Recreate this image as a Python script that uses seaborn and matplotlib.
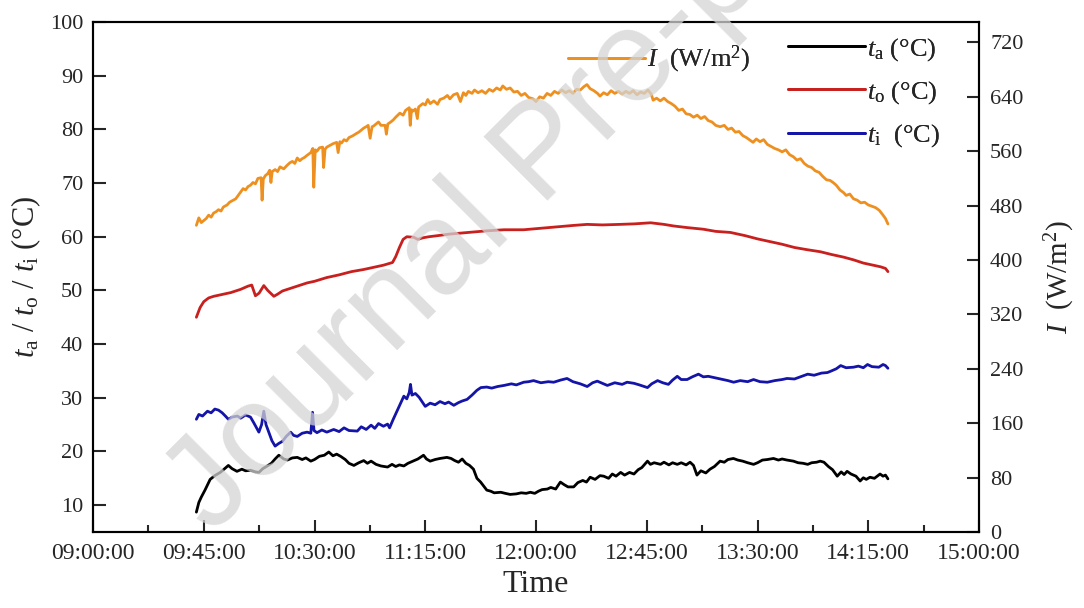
import numpy as np
import pandas as pd
import matplotlib
matplotlib.use("Agg")
import matplotlib.pyplot as plt
import seaborn as sns
from matplotlib.ticker import FixedLocator, MultipleLocator

# ---------------- data (time in minutes after 09:00) ----------------
t_I = [42, 43, 44, 45, 46, 47, 48, 49, 50, 51, 52, 53, 54.5, 55.5, 57, 58, 59, 60, 61, 62, 63, 64, 65, 66,
       67, 68.3, 68.7, 69.2, 70, 71, 71.8, 72.3, 72.8, 74, 75, 76, 77.5, 78.8, 80, 81, 82, 83, 84, 85, 86,
       87, 88.5, 89.3, 89.7, 90.3, 91, 92, 93.3, 93.7, 94.3, 95, 96, 97.5, 99, 99.6, 100.3, 101, 102, 103,
       104, 105.7, 107, 108, 109, 110, 111, 111.8, 112.6, 113.4, 114, 115, 116, 117, 118.7, 119.2, 119.8,
       121, 122, 123, 124.7, 126, 127, 128.5, 128.9, 129.4, 130, 131, 131.8, 132.3, 133, 134, 135,
       136, 137, 138.5, 140, 141, 142.5, 144, 145, 146.5, 148, 149.3, 150.5, 151.5, 152.5, 154, 155,
       156.5, 158, 159.5, 161, 162.5, 164, 165.5, 166.5, 168, 169.5, 171, 172.5, 174, 175.5, 177, 178.8,
       180, 181.5, 183, 184.5, 186, 187.5, 189, 190.5, 192, 193.5, 195, 196.5, 198, 199.5, 200.7, 202,
       203.5, 205, 206, 207.5, 209, 210.5, 212, 213.5, 215, 216.5, 218, 219.5, 221, 222.5, 224, 225.5,
       226.8, 227.6, 229, 230.5, 232, 233.5, 235, 236.5, 238, 239.5, 241, 242.5, 244, 245.5, 247, 248.5,
       250, 251.5, 253, 254.8, 256.5, 258, 259.5, 261, 262.5, 264, 265.5, 267, 268.2, 269.5, 271, 272.5,
       274, 275.5, 277, 278.5, 280, 281.5, 283, 284.5, 286, 287.5, 289, 290.5, 292, 293.5, 295, 296.5,
       298, 299.5, 300.7, 302, 303.5, 305, 306, 307.5, 309, 310.5, 312, 313.5, 315, 316.5, 318, 319.5,
       321, 322, 323]
I_vals = [451, 462, 455, 458, 461, 466, 463, 469, 471, 474, 472, 478, 481, 485, 488, 490, 495, 500, 505, 503, 508, 510, 514, 512,
          520, 521, 488, 519, 524, 527, 532, 514, 530, 533, 530, 537, 534, 539, 543, 545, 542, 550, 546, 549, 551,
          554, 558, 564, 507, 562, 560, 565, 566, 536, 563, 566, 568, 571, 573, 558, 574, 572, 577, 575,
          580, 583, 586, 588, 591, 594, 596, 598, 579, 596, 597, 600, 603, 598, 598, 585, 600,
          603, 606, 610, 616, 613, 620, 624, 598, 621, 619, 622, 608, 625, 627, 630, 628,
          636, 630, 634, 629, 636, 638, 642, 637, 643, 645, 633, 646, 642, 648, 645, 650,
          646, 649, 645, 651, 648, 653, 650, 656, 651, 653, 647, 648, 642, 645, 639, 637,
          633, 640, 638, 645, 642, 648, 645, 650, 646, 649, 645, 651, 650, 655, 658, 652,
          649, 645, 641, 646, 643, 649, 645, 648, 644, 648, 645, 649, 643, 647, 645, 650,
          644, 635, 638, 634, 638, 633, 630, 626, 620, 622, 615, 614, 610, 613, 608, 611,
          605, 603, 598, 596, 598, 592, 594, 588, 589, 583, 580, 576, 573, 578, 574, 577,
          570, 567, 564, 562, 559, 562, 555, 552, 547, 549, 542, 538, 536, 531, 529, 523,
          518, 517, 514, 510, 503, 499, 495, 497, 490, 488, 484, 485, 481, 479, 477, 473,
          466, 461, 453]

t_o_time = [42, 43.5, 45, 47, 49, 52, 56, 60, 63, 64.5, 66, 67.5, 69.4, 71, 73.5, 75, 77, 79, 83, 87, 90,
            95, 100, 105, 110, 114, 118, 121.7, 123, 124.5, 126, 127.5, 130.3, 132, 134, 136.5, 140, 145,
            150, 155, 160, 167, 175, 180, 185, 190, 195, 200.8, 207, 214, 220, 226.6, 232, 236, 241.5,
            248, 253, 259, 265, 270, 275, 280, 285, 290, 295.6, 300, 305, 309, 313, 317, 320, 322, 323]
t_o_vals = [45.0, 46.8, 47.9, 48.6, 48.9, 49.2, 49.6, 50.2, 50.8, 51.0, 49.0, 49.5, 50.9, 50.0, 48.9, 49.3,
            49.9, 50.2, 50.8, 51.4, 51.7, 52.4, 52.9, 53.5, 53.9, 54.3, 54.7, 55.2, 56.3, 58.0, 59.5, 60.0,
            59.9, 59.5, 59.8, 60.0, 60.2, 60.5, 60.7, 60.9, 61.1, 61.3, 61.3, 61.5, 61.7, 61.9, 62.1, 62.3,
            62.2, 62.3, 62.4, 62.6, 62.3, 62.0, 61.7, 61.4, 61.0, 60.8, 60.2, 59.6, 59.1, 58.6, 58.0, 57.6,
            57.2, 56.7, 56.2, 55.7, 55.1, 54.7, 54.4, 54.1, 53.5]

t_i_time = [42, 43, 44.5, 46.5, 48, 49.5, 51, 52.5, 54, 55, 56.5, 58.7, 60, 62, 64, 65.5, 67.4, 68.5, 69.4,
            70.3, 71.4, 72.7, 74, 75.5, 77, 78.5, 80.3, 81.5, 83, 85, 87, 88.5, 89.2, 89.8, 91, 93, 95,
            97.8, 100, 102, 104, 107.4, 109, 111, 113, 114.5, 116, 118, 119.7, 120.5, 122, 124, 126.3,
            127.5, 128.5, 129, 129.6, 131, 132.5, 135, 137, 139, 141, 143, 144.5, 146.6, 148.5, 150, 152,
            154, 156, 157.6, 160, 162, 164.4, 167, 170, 172, 175, 177, 179, 182, 185, 187.2, 190, 192.6,
            195, 198, 200.8, 203, 204.9, 207, 209, 212, 215, 217, 219.8, 222, 225.3, 227, 229.4, 231.5,
            233.8, 235.5, 237.4, 239, 241.4, 243.5, 246, 248, 250, 252, 255, 258, 260.3, 263, 266, 268.4,
            271, 274, 277, 280, 282, 285, 288, 290.4, 293, 296, 298.4, 300, 302, 303.8, 306, 309, 311,
            313, 314.7, 316.5, 319.3, 321, 322, 323]
t_i_vals = [26.0, 26.9, 26.6, 27.5, 27.2, 27.9, 27.7, 27.2, 26.5, 26.0, 26.4, 26.6, 26.2, 26.8, 26.4, 25.2,
            23.6, 25.0, 27.5, 25.0, 23.6, 22.0, 21.0, 21.5, 21.9, 22.8, 23.6, 23.0, 22.8, 23.4, 23.6, 23.4,
            27.3, 23.9, 23.5, 24.0, 23.6, 24.1, 23.7, 24.4, 23.9, 23.8, 24.6, 24.1, 24.9, 24.3, 25.2, 24.7,
            25.1, 24.4, 26.0, 28.0, 30.3, 29.8, 31.0, 32.5, 30.5, 30.8, 30.1, 28.4, 29.0, 28.7, 29.3, 28.9,
            29.2, 28.6, 29.1, 29.4, 29.7, 30.5, 31.4, 31.9, 32.0, 31.8, 32.1, 32.3, 32.6, 32.4, 32.9, 33.0,
            33.2, 32.8, 33.0, 32.9, 33.3, 33.6, 33.0, 32.6, 32.1, 32.8, 33.1, 32.7, 32.3, 32.8, 32.5, 32.9,
            32.7, 32.4, 31.9, 32.6, 33.2, 32.8, 32.5, 33.3, 34.0, 33.4, 33.4, 33.9, 34.4, 33.9, 34.0, 33.8,
            33.5, 33.2, 32.9, 33.2, 33.0, 33.4, 33.0, 32.9, 33.2, 33.4, 33.6, 33.5, 34.0, 34.4, 34.2, 34.6,
            34.7, 35.0, 35.4, 36.0, 35.6, 35.7, 35.9, 35.6, 36.2, 35.8, 35.7, 36.2, 36.0, 35.5]

t_a_time = [42, 43, 44, 45.5, 47.6, 49.5, 51.7, 53, 55, 56.5, 58.5, 60.5, 62, 64, 66, 67.4, 69, 70.8, 72.5,
            74, 75.5, 77.5, 79, 81, 83, 85, 86.5, 88.5, 90, 92, 94, 95.8, 97.5, 99, 100.6, 102.5, 104, 106,
            108, 110, 111.5, 113, 115, 117, 119.7, 121.5, 123, 124.5, 126.3, 128, 130, 132, 134.3, 135.5,
            137, 139, 141, 143.8, 145.5, 147, 148.5, 150, 151.5, 153, 154.6, 156, 157.5, 159, 160, 161.6,
            163, 165.7, 167.5, 169.5, 172, 174, 176, 177.7, 179.5, 181, 182.5, 184.6, 186, 188, 189.9,
            191.5, 193, 195.3, 197, 199, 200.5, 202, 204, 206, 207.5, 209.5, 211, 212.5, 214.4, 216, 218,
            219.8, 221.5, 223, 225.3, 226.5, 228, 230.6, 232, 234, 235.5, 237.4, 239, 241, 242.6, 244,
            245.4, 247, 249, 250.7, 252.5, 254.8, 256.5, 258, 260.2, 262, 264, 266, 268.4, 270, 272, 274,
            276.5, 278.5, 280, 282, 284.6, 286.5, 288.5, 290.4, 292, 294, 295.5, 297, 298.8, 300.5, 302.4,
            304, 305.2, 306.4, 308, 310, 311.7, 313, 314.2, 315.7, 317.5, 319.8, 321, 322, 323]
t_a_vals = [8.7, 10.5, 11.5, 12.8, 14.8, 15.5, 16.1, 16.6, 17.4, 16.8, 16.3, 16.7, 16.4, 16.5, 16.2, 16.1,
            16.8, 17.3, 17.8, 18.6, 19.3, 18.6, 18.4, 18.8, 18.9, 18.5, 18.8, 18.2, 18.5, 19.1, 19.3, 19.9,
            19.2, 19.5, 19.1, 18.5, 17.8, 17.4, 17.9, 18.3, 17.8, 18.2, 17.6, 17.3, 17.1, 17.6, 17.2, 17.5,
            17.3, 17.8, 18.2, 18.6, 19.3, 18.6, 18.2, 18.5, 18.7, 18.9, 18.7, 18.3, 18.0, 18.6, 17.8, 17.4,
            16.7, 15.0, 14.3, 13.4, 12.8, 12.6, 12.3, 12.4, 12.2, 12.0, 12.1, 12.3, 12.2, 12.4, 12.2, 12.6,
            12.9, 13.0, 13.3, 13.0, 14.3, 13.8, 13.4, 13.4, 14.2, 14.6, 14.3, 15.2, 14.8, 15.5, 15.4, 15.0,
            15.8, 15.4, 16.1, 15.6, 16.1, 15.8, 16.6, 17.0, 18.2, 17.6, 17.9, 17.6, 18.0, 17.5, 17.9, 17.6,
            17.9, 17.5, 18.0, 17.4, 15.6, 16.4, 16.0, 16.7, 17.2, 18.2, 18.0, 18.5, 18.7, 18.4, 18.2, 17.9,
            17.6, 17.9, 18.4, 18.5, 18.7, 18.4, 18.6, 18.4, 18.2, 17.9, 17.8, 17.6, 17.9, 18.0, 18.2, 18.0,
            17.2, 16.6, 15.4, 16.2, 15.7, 16.3, 15.8, 15.4, 14.5, 15.1, 14.8, 15.2, 15.0, 15.8, 15.4, 15.6,
            14.9]

x_ticks = [0, 45, 90, 135, 180, 225, 270, 315, 360]
x_tick_labels = ["09:00:00", "09:45:00", "10:30:00", "11:15:00", "12:00:00",
                 "12:45:00", "13:30:00", "14:15:00", "15:00:00"]
left_ticks = [10, 20, 30, 40, 50, 60, 70, 80, 90, 100]
right_ticks = [0, 80, 160, 240, 320, 400, 480, 560, 640, 720]

# ---------------- style ----------------
sns.set_theme(style="white")
plt.rcParams["font.family"] = ["Liberation Serif", "DejaVu Serif"]
plt.rcParams["mathtext.fontset"] = "custom"
plt.rcParams["mathtext.rm"] = "Liberation Serif"
plt.rcParams["mathtext.it"] = "Liberation Serif:italic"
plt.rcParams["axes.linewidth"] = 1.5

C_I = "#EE9020"
C_A = "#000000"
C_O = "#C8201E"
C_IN = "#1414A8"
LW = 2.0

fig = plt.figure(figsize=(10.84, 6.08), dpi=100)
ax = fig.add_axes([93 / 1084, 1 - 532 / 608, (979 - 93) / 1084, (532 - 22) / 608])
ax2 = ax.twinx()

df_a = pd.DataFrame({"t": t_a_time, "v": t_a_vals})
df_o = pd.DataFrame({"t": t_o_time, "v": t_o_vals})
df_i = pd.DataFrame({"t": t_i_time, "v": t_i_vals})
df_I = pd.DataFrame({"t": t_I, "v": I_vals})

sns.lineplot(data=df_a, x="t", y="v", ax=ax, color=C_A, lw=LW, estimator=None, sort=False,
             label=r"$t_{\rm a}$ (°C)")
sns.lineplot(data=df_o, x="t", y="v", ax=ax, color=C_O, lw=LW, estimator=None, sort=False,
             label=r"$t_{\rm o}$ (°C)")
sns.lineplot(data=df_i, x="t", y="v", ax=ax, color=C_IN, lw=LW, estimator=None, sort=False,
             label=r"$t_{\rm i}$  (°C)")
sns.lineplot(data=df_I, x="t", y="v", ax=ax2, color=C_I, lw=LW, estimator=None, sort=False,
             label=r"$I$  (W/m$^2$)")

ax.set_xlim(0, 360)
ax.set_ylim(5, 100)
ax2.set_ylim(0, 750)

ax.xaxis.set_major_locator(FixedLocator(x_ticks))
ax.set_xticklabels(x_tick_labels)
ax.xaxis.set_minor_locator(MultipleLocator(22.5))
ax.yaxis.set_major_locator(FixedLocator(left_ticks))
ax2.yaxis.set_major_locator(FixedLocator(right_ticks))

ax.tick_params(axis="x", which="major", direction="in", length=9, width=1.5, labelsize=17, pad=8,
               top=False, bottom=True)
ax.tick_params(axis="x", which="minor", direction="in", length=5, width=1.5, bottom=True)
ax.tick_params(axis="y", which="major", direction="in", length=9, width=1.5, labelsize=16, pad=7, left=True)
ax2.tick_params(axis="y", which="major", direction="in", length=9, width=1.5, labelsize=16, pad=8, right=True)

ax.set_xlabel("Time", fontsize=23, labelpad=4)
ax.set_ylabel(r"$t_{\rm a}$ / $t_{\rm o}$ / $t_{\rm i}$ (°C)", fontsize=22, labelpad=5)
ax2.set_ylabel(r"$I$  (W/m$^2$)", fontsize=21, labelpad=14)

for a in (ax, ax2):
    for s in a.spines.values():
        s.set_color("black")
        s.set_linewidth(1.5)

# legends
h1, l1 = ax.get_legend_handles_labels()
h2, l2 = ax2.get_legend_handles_labels()
if ax.get_legend():
    ax.get_legend().remove()
if ax2.get_legend():
    ax2.get_legend().remove()
leg2 = ax2.legend(h2, l2, loc="upper left", bbox_to_anchor=(568 / 1084, 1 - 44 / 608),
                  bbox_transform=fig.transFigure, frameon=False, fontsize=19, handlelength=2.9,
                  handletextpad=0.1, borderpad=0, borderaxespad=0)
leg1 = ax.legend(h1, l1, loc="upper left", bbox_to_anchor=(788 / 1084, 1 - 36 / 608),
                 bbox_transform=fig.transFigure, frameon=False, fontsize=19, handlelength=2.9,
                 handletextpad=0.1, borderpad=0, borderaxespad=0, labelspacing=0.62)
ax.add_artist(leg1)
ax2.add_artist(leg2)

# watermark
fig.text(212 / 1084, 1 - 536 / 608, "Journal Pre-proof", fontsize=94, family="Liberation Sans",
         color="#d4d4d4", alpha=0.75, rotation=45, rotation_mode="anchor", ha="left", va="baseline",
         zorder=10)

fig.savefig("out.png", dpi=100)
